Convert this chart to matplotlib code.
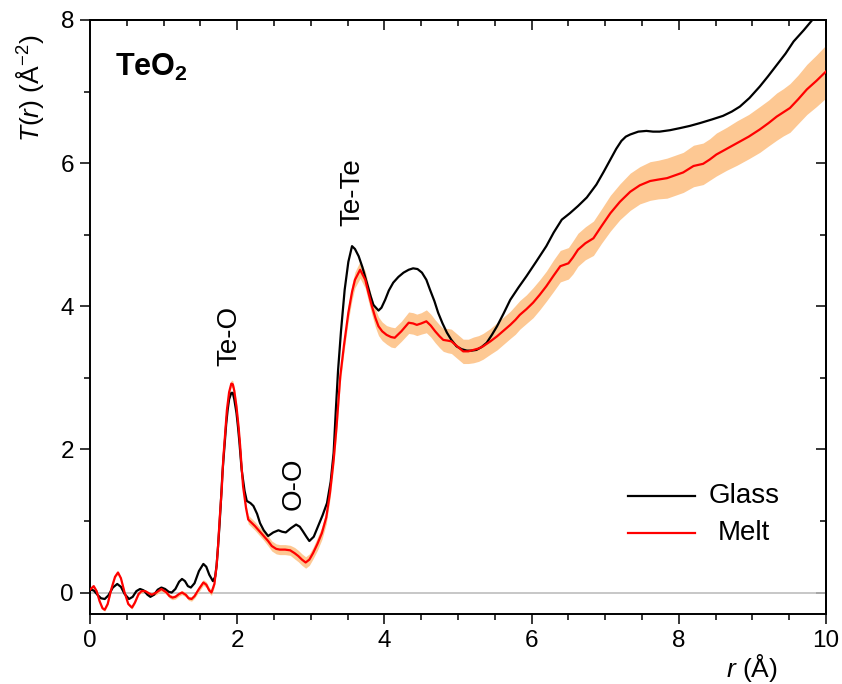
"""
TeO2 总对关联函数 T(r)：玻璃 vs 熔体（熔体带误差阴影）。
直接运行: python plot.py -> out.png
"""

import matplotlib

matplotlib.use("Agg")
import matplotlib.pyplot as plt
from matplotlib.ticker import MultipleLocator
import numpy as np

plt.rcParams["font.family"] = ["Liberation Sans", "DejaVu Sans"]
plt.rcParams["mathtext.fontset"] = "custom"
plt.rcParams["mathtext.rm"] = "Liberation Sans"
plt.rcParams["mathtext.it"] = "Liberation Sans:italic"
plt.rcParams["mathtext.bf"] = "Liberation Sans:bold"

# ---- 玻璃 (Glass) ----
glass_r = [
    0.00, 0.05, 0.10, 0.15, 0.20, 0.25, 0.31, 0.37, 0.42, 0.47,
    0.53, 0.58, 0.63, 0.68, 0.73, 0.78, 0.82, 0.87, 0.92, 0.97,
    1.02, 1.07, 1.11, 1.16, 1.21, 1.25, 1.29, 1.33, 1.37, 1.42,
    1.48, 1.54, 1.58, 1.62, 1.67, 1.70, 1.72, 1.74, 1.76, 1.78,
    1.80, 1.83, 1.85, 1.87, 1.89, 1.92, 1.94, 1.96, 1.99, 2.01,
    2.03, 2.06, 2.10, 2.13, 2.18, 2.22, 2.27, 2.31, 2.36, 2.42,
    2.49, 2.56, 2.61, 2.66, 2.73, 2.80, 2.85, 2.89, 2.94,
    2.98, 3.04, 3.10, 3.16, 3.22, 3.27, 3.31, 3.34, 3.37, 3.41,
    3.46, 3.51, 3.56, 3.60, 3.65, 3.70, 3.76, 3.81, 3.85, 3.92,
    3.96, 4.01, 4.06, 4.12, 4.19, 4.26, 4.33, 4.39, 4.45, 4.51,
    4.57, 4.62, 4.68, 4.73, 4.79, 4.85, 4.91, 4.98, 5.05, 5.12,
    5.18, 5.25, 5.32, 5.39, 5.46, 5.53, 5.62, 5.71, 5.82, 5.93,
    6.06, 6.20, 6.30, 6.41, 6.52, 6.63, 6.75, 6.88, 6.98, 7.07,
    7.15, 7.22, 7.28, 7.34, 7.45, 7.56, 7.65, 7.74, 7.88, 8.02,
    8.15, 8.29, 8.45, 8.60, 8.72, 8.83, 8.96, 9.10, 9.21, 9.33,
    9.45, 9.56, 9.70, 9.83, 10.00,
]
glass_T = [
    0.04, 0.03, -0.03, -0.08, -0.09, -0.04, 0.07, 0.12, 0.08, -0.02,
    -0.09, -0.06, 0.02, 0.05, 0.03, -0.03, -0.06, -0.03, 0.04, 0.07,
    0.05, 0.01, 0.00, 0.05, 0.15, 0.19, 0.16, 0.09, 0.07, 0.13,
    0.30, 0.40, 0.36, 0.25, 0.16, 0.22, 0.38, 0.65, 0.95, 1.30,
    1.68, 2.09, 2.35, 2.55, 2.70, 2.79, 2.79, 2.70, 2.51, 2.32,
    2.10, 1.72, 1.42, 1.28, 1.25, 1.21, 1.10, 0.97, 0.87, 0.79,
    0.84, 0.87, 0.85, 0.84, 0.90, 0.95, 0.92, 0.86, 0.78,
    0.72, 0.78, 0.93, 1.08, 1.25, 1.55, 1.95, 2.55, 3.10, 3.65,
    4.23, 4.62, 4.84, 4.80, 4.70, 4.55, 4.33, 4.15, 4.02, 3.94,
    3.98, 4.09, 4.22, 4.33, 4.41, 4.47, 4.51, 4.53, 4.52, 4.47,
    4.37, 4.23, 4.07, 3.91, 3.76, 3.63, 3.53, 3.44, 3.40, 3.38,
    3.38, 3.39, 3.43, 3.49, 3.60, 3.72, 3.90, 4.09, 4.26, 4.42,
    4.62, 4.84, 5.03, 5.21, 5.30, 5.40, 5.52, 5.70, 5.88, 6.05,
    6.20, 6.31, 6.37, 6.40, 6.44, 6.45, 6.44, 6.44, 6.46, 6.49,
    6.52, 6.56, 6.61, 6.66, 6.72, 6.79, 6.91, 7.07, 7.21, 7.37,
    7.53, 7.70, 7.86, 8.02, 8.25,
]

# ---- 熔体 (Melt) 及其误差 ----
melt_r = [
    0.00, 0.05, 0.09, 0.13, 0.17, 0.20, 0.24, 0.29, 0.34, 0.38,
    0.42, 0.47, 0.52, 0.57, 0.61, 0.66, 0.70, 0.75, 0.80, 0.84,
    0.90, 0.97, 1.04, 1.08, 1.12, 1.16, 1.21, 1.25, 1.30, 1.34,
    1.38, 1.42, 1.48, 1.54, 1.58, 1.62, 1.65, 1.69, 1.72, 1.74,
    1.76, 1.79, 1.81, 1.84, 1.86, 1.89, 1.92, 1.94, 1.96, 1.99,
    2.02, 2.04, 2.06, 2.08, 2.12, 2.15, 2.20, 2.24, 2.30, 2.36,
    2.42, 2.47, 2.53, 2.58, 2.65, 2.72, 2.78, 2.83, 2.88, 2.93,
    2.98, 3.03, 3.09, 3.15, 3.21, 3.26, 3.31, 3.35, 3.40, 3.45,
    3.51, 3.56, 3.60, 3.67, 3.74, 3.78, 3.83, 3.88, 3.92, 3.97,
    4.03, 4.09, 4.14, 4.23, 4.33, 4.39, 4.44, 4.50, 4.57, 4.63,
    4.69, 4.75, 4.80, 4.86, 4.91, 4.99, 5.07, 5.14, 5.21, 5.28,
    5.34, 5.44, 5.53, 5.62, 5.71, 5.78, 5.84, 5.93, 6.02, 6.11,
    6.20, 6.30, 6.39, 6.50, 6.56, 6.63, 6.73, 6.84, 6.95, 7.07,
    7.20, 7.34, 7.47, 7.61, 7.72, 7.84, 7.95, 8.06, 8.20, 8.33,
    8.42, 8.51, 8.65, 8.79, 8.95, 9.10, 9.22, 9.33, 9.42, 9.51,
    9.62, 9.74, 9.87, 10.00,
]
melt_T = [
    0.04, 0.09, 0.02, -0.12, -0.22, -0.24, -0.16, 0.05, 0.22, 0.28,
    0.20, 0.00, -0.16, -0.21, -0.14, -0.02, 0.02, 0.02, -0.01, -0.03,
    0.00, 0.05, 0.00, -0.05, -0.07, -0.06, -0.02, 0.00, -0.03, -0.08,
    -0.09, -0.05, 0.05, 0.14, 0.11, 0.03, 0.00, 0.12, 0.37, 0.65,
    1.00, 1.45, 1.86, 2.28, 2.55, 2.80, 2.92, 2.91, 2.82, 2.60,
    2.30, 2.05, 1.75, 1.48, 1.18, 1.02, 0.97, 0.93, 0.86, 0.79,
    0.72, 0.65, 0.61, 0.60, 0.60, 0.59, 0.55, 0.51, 0.46, 0.42,
    0.46, 0.55, 0.68, 0.83, 1.05, 1.39, 1.85, 2.32, 3.02, 3.45,
    3.91, 4.20, 4.37, 4.51, 4.37, 4.20, 4.00, 3.83, 3.72, 3.65,
    3.60, 3.57, 3.56, 3.65, 3.77, 3.76, 3.74, 3.76, 3.79, 3.73,
    3.65, 3.58, 3.53, 3.52, 3.51, 3.44, 3.37, 3.37, 3.39, 3.41,
    3.44, 3.51, 3.58, 3.66, 3.74, 3.81, 3.88, 3.96, 4.05, 4.16,
    4.28, 4.43, 4.56, 4.60, 4.68, 4.79, 4.88, 4.95, 5.12, 5.30,
    5.46, 5.60, 5.69, 5.75, 5.77, 5.79, 5.83, 5.87, 5.96, 5.99,
    6.05, 6.12, 6.20, 6.28, 6.37, 6.47, 6.56, 6.65, 6.71, 6.77,
    6.89, 7.03, 7.15, 7.28,
]
melt_err = [
    0.02, 0.02, 0.02, 0.02, 0.02, 0.02, 0.02, 0.02, 0.02, 0.02,
    0.02, 0.02, 0.02, 0.02, 0.02, 0.02, 0.02, 0.02, 0.02, 0.02,
    0.03, 0.03, 0.03, 0.03, 0.03, 0.03, 0.03, 0.03, 0.03, 0.03,
    0.03, 0.03, 0.04, 0.04, 0.04, 0.04, 0.04, 0.04, 0.04, 0.05,
    0.05, 0.05, 0.05, 0.05, 0.05, 0.05, 0.05, 0.05, 0.05, 0.05,
    0.05, 0.05, 0.05, 0.06, 0.06, 0.06, 0.06, 0.06, 0.06, 0.06,
    0.07, 0.07, 0.07, 0.07, 0.07, 0.07, 0.08, 0.08, 0.08, 0.08,
    0.08, 0.08, 0.09, 0.09, 0.09, 0.09, 0.10, 0.10, 0.10, 0.10,
    0.11, 0.11, 0.11, 0.12, 0.12, 0.12, 0.12, 0.13, 0.13, 0.13,
    0.13, 0.14, 0.14, 0.14, 0.15, 0.15, 0.15, 0.15, 0.16, 0.16,
    0.16, 0.16, 0.16, 0.17, 0.17, 0.17, 0.17, 0.17, 0.18, 0.18,
    0.18, 0.18, 0.19, 0.19, 0.19, 0.20, 0.20, 0.20, 0.21, 0.21,
    0.21, 0.22, 0.22, 0.22, 0.23, 0.23, 0.23, 0.24, 0.24, 0.25,
    0.25, 0.26, 0.26, 0.27, 0.27, 0.28, 0.28, 0.28, 0.29, 0.29,
    0.29, 0.30, 0.30, 0.31, 0.31, 0.32, 0.32, 0.33, 0.33, 0.34,
    0.34, 0.35, 0.36, 0.37,
]

# 峰的标注 (文本, r, T)
peak_labels = ["Te-O", "O-O", "Te-Te"]
peak_r = [1.90, 2.77, 3.56]
peak_T = [3.58, 1.52, 5.59]

BAND = "#FDC893"
TICK_FS = 17.5
LW = 1.6


def main() -> None:
    fig = plt.figure(figsize=(8.42, 6.84), dpi=100)
    ax = fig.add_axes([0.1069, 0.1023, 0.8741, 0.8685])

    mr = np.asarray(melt_r)
    mt = np.asarray(melt_T)
    me = np.asarray(melt_err)

    ax.axhline(0, color="#bdbdbd", lw=1.2, zorder=1)
    ax.fill_between(mr, mt - me, mt + me, color=BAND, lw=0, zorder=2)
    ax.plot(glass_r, glass_T, color="black", lw=LW, zorder=3)
    ax.plot(mr, mt, color="#ff0000", lw=LW, zorder=4)

    ax.set_xlim(0, 10)
    ax.set_ylim(-0.3, 8)

    ax.xaxis.set_major_locator(MultipleLocator(2))
    ax.xaxis.set_minor_locator(MultipleLocator(0.5))
    ax.yaxis.set_major_locator(MultipleLocator(2))
    ax.yaxis.set_minor_locator(MultipleLocator(1))
    ax.tick_params(which="major", direction="out", length=7.5, width=1.1,
                   labelsize=TICK_FS, pad=4)
    ax.tick_params(which="minor", direction="out", length=4.2, width=1.1)
    for s in ax.spines.values():
        s.set_linewidth(1.4)

    # 顶部/右侧刻度朝内，无标签
    top = ax.secondary_xaxis("top")
    top.xaxis.set_major_locator(MultipleLocator(2))
    top.xaxis.set_minor_locator(MultipleLocator(0.5))
    top.tick_params(which="major", direction="in", length=7.5, width=1.1,
                    labeltop=False)
    top.tick_params(which="minor", direction="in", length=4.2, width=1.1)
    top.spines["top"].set_linewidth(1.4)
    right = ax.secondary_yaxis("right")
    right.yaxis.set_major_locator(MultipleLocator(2))
    right.yaxis.set_minor_locator(MultipleLocator(1))
    right.tick_params(which="major", direction="in", length=7.5, width=1.1,
                      labelright=False)
    right.tick_params(which="minor", direction="in", length=4.2, width=1.1)
    right.spines["right"].set_linewidth(1.4)

    for lab, x, y in zip(peak_labels, peak_r, peak_T):
        ax.text(x, y, lab, rotation=90, ha="center", va="center", fontsize=20)

    ax.text(0.034, 0.92, r"TeO$_\mathbf{2}$", transform=ax.transAxes,
            fontsize=22, fontweight="bold", ha="left", va="center")

    # 图例（手动放置）
    ax.plot([0.731, 0.822], [0.199, 0.199], color="black", lw=LW,
            transform=ax.transAxes)
    ax.plot([0.731, 0.822], [0.136, 0.136], color="#ff0000", lw=LW,
            transform=ax.transAxes)
    ax.text(0.889, 0.199, "Glass", transform=ax.transAxes, fontsize=20,
            ha="center", va="center")
    ax.text(0.889, 0.136, "Melt", transform=ax.transAxes, fontsize=20,
            ha="center", va="center")

    fig.text(0.0356, 0.871, r"$T$($r$) (Å$^{-2}$)", rotation=90,
             ha="center", va="center", fontsize=19)
    fig.text(0.893, 0.0234, r"$r$ (Å)", ha="center", va="center", fontsize=19)

    fig.savefig("out.png", dpi=100)
    plt.close(fig)


if __name__ == "__main__":
    main()
